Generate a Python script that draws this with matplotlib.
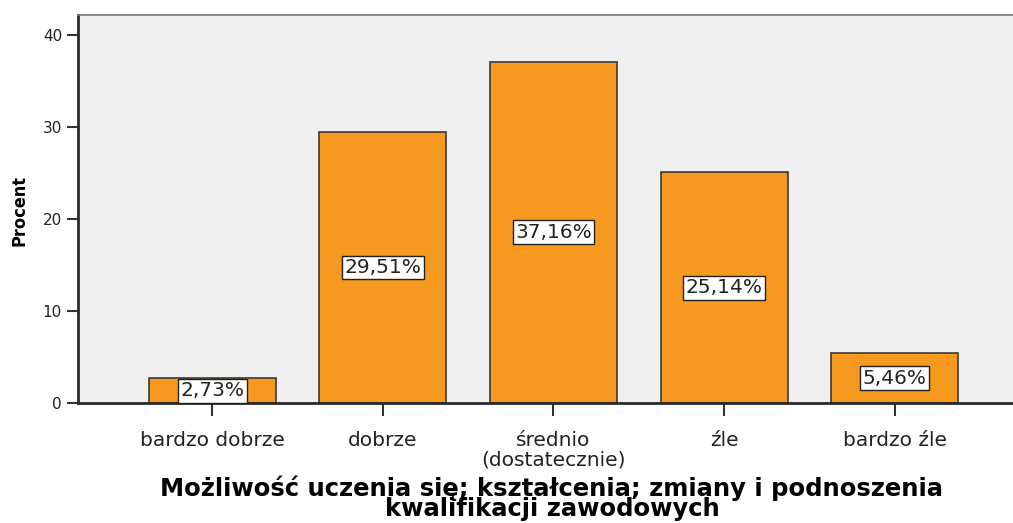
import matplotlib
matplotlib.use("Agg")
import matplotlib.pyplot as plt
import numpy as np

categories = ['bardzo dobrze', 'dobrze', 'średnio\n(dostatecznie)', 'źle', 'bardzo źle']
percent = [2.73, 29.51, 37.16, 25.14, 5.46]
value_labels = ['2,73%', '29,51%', '37,16%', '25,14%', '5,46%']
y_ticks = [0, 10, 20, 30, 40]
x_title = 'Możliwość uczenia się; kształcenia; zmiany i podnoszenia\nkwalifikacji zawodowych'

plt.rcParams['font.family'] = 'DejaVu Sans'

fig = plt.figure(figsize=(10.13, 5.23), dpi=100)
ax = fig.add_axes([0.077, 0.229, 0.936, 0.742])
ax.set_facecolor('#f0f0f0')

x = np.arange(len(categories))
ax.bar(x, percent, width=0.745, color='#f7981f', edgecolor='#3a3a3a', linewidth=1.2, zorder=2)

for xi, val, lab in zip(x, percent, value_labels):
    ax.text(xi, val / 2, lab, ha='center', va='center', fontsize=14.5, color='#222222', zorder=3,
            bbox=dict(boxstyle='square,pad=0.12', facecolor='white', edgecolor='#222222', linewidth=1))

ax.set_xlim(-0.786, 4.77)
ax.set_ylim(0, 42.2)
ax.set_yticks(y_ticks)
ax.set_xticks(x)
ax.set_xticklabels(categories, fontsize=14.5, color='#222222', linespacing=1.0)
ax.tick_params(axis='y', labelsize=11, length=8, width=1.5, color='#333333', labelcolor='#222222')
ax.tick_params(axis='x', length=9, width=1.5, color='#333333', pad=11)

for side in ['left', 'bottom']:
    ax.spines[side].set_linewidth(2)
    ax.spines[side].set_color('#2a2a2a')
ax.spines['top'].set_color('#777777')
ax.spines['top'].set_linewidth(1.2)
ax.spines['right'].set_visible(False)

fig.text(0.019, 1 - 210 / 523, 'Procent', rotation=90, ha='center', va='center', fontsize=13,
         fontweight='bold', fontstretch='condensed')
fig.text(552 / 1013, 1 - 498 / 523, x_title, ha='center', va='center', fontsize=17.5,
         fontweight='bold', linespacing=0.8)

fig.savefig('out.png', dpi=100)
